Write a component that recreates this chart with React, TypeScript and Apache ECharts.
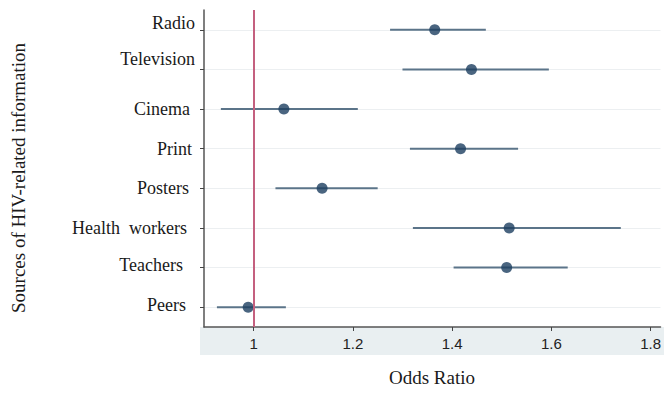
import React, { useEffect, useRef } from "react";
import * as echarts from "echarts";

const categories = ["Radio", "Television", "Cinema", "Print", "Posters", "Health workers", "Teachers", "Peers"];
const oddsRatio = [1.365, 1.439, 1.061, 1.417, 1.138, 1.515, 1.51, 0.989];
const lowerCI = [1.275, 1.3, 0.934, 1.315, 1.044, 1.321, 1.403, 0.926];
const upperCI = [1.468, 1.595, 1.21, 1.533, 1.25, 1.74, 1.633, 1.065];
const xTicks = [1, 1.2, 1.4, 1.6, 1.8];

// label nudges (style only): [bottom padding to lift, right padding]
const labelNudge: Record<string, [number, number]> = {
  Radio: [14, 0],
  Television: [20, 0],
  Cinema: [0, 5],
  Print: [0, 3],
  Posters: [0, 6],
  "Health workers": [0, 8],
  Teachers: [6, 12],
  Peers: [4, 9],
};

const SERIF = "Liberation Serif";

export default function App() {
  const ref = useRef<HTMLDivElement>(null);
  useEffect(() => {
    if (!ref.current) return;
    const chart = echarts.init(ref.current, undefined, { renderer: "svg" });
    const rich: Record<string, any> = {};
    categories.forEach((c, i) => {
      const [b, r] = labelNudge[c] || [0, 0];
      rich["c" + i] = {
        fontFamily: SERIF,
        fontSize: 18,
        color: "#1a1a1a",
        padding: [0, r, b, 0],
      };
    });
    chart.setOption({
      animation: false,
      backgroundColor: "#ffffff",
      grid: { left: 204, top: 10, right: 0, bottom: 86, containLabel: false },
      graphic: [
        {
          type: "rect",
          z: -10,
          shape: { x: 200, y: 327, width: 464, height: 28 },
          style: { fill: "#e9eff1" },
        },
        {
          type: "text",
          x: 18,
          y: 178,
          rotation: Math.PI / 2,
          style: {
            text: "Sources of HIV-related information",
            fontFamily: SERIF,
            fontSize: 19,
            fill: "#1a1a1a",
            align: "center",
            verticalAlign: "middle",
          },
        },
        {
          type: "text",
          x: 432,
          y: 377,
          style: {
            text: "Odds Ratio",
            fontFamily: SERIF,
            fontSize: 19,
            fill: "#1a1a1a",
            align: "center",
            verticalAlign: "middle",
          },
        },
      ],
      xAxis: {
        type: "value",
        min: 0.9,
        max: 1.82,
        axisLine: { show: true, onZero: false, lineStyle: { color: "#555", width: 1.5 } },
        axisTick: { show: true, length: 4, customValues: xTicks, lineStyle: { color: "#444" } },
        axisLabel: {
          customValues: xTicks,
          fontFamily: "Liberation Sans",
          fontSize: 15,
          color: "#222",
          margin: 9,
          formatter: (v: number) => String(+v.toFixed(1)),
        },
        splitLine: { show: false },
      },
      yAxis: {
        type: "category",
        data: categories,
        inverse: true,
        axisLine: { show: true, lineStyle: { color: "#555", width: 1.5 } },
        axisTick: { show: true, alignWithLabel: true, length: 4, lineStyle: { color: "#444" } },
        axisLabel: {
          margin: 9,
          formatter: (v: string) => `{c${categories.indexOf(v)}|${v === "Health workers" ? "Health  workers" : v}}`,
          rich,
        },
        splitLine: { show: true, alignWithLabel: true, lineStyle: { color: "#eceff1", width: 1 } },
      },
      series: [
        {
          type: "custom",
          renderItem: (params: any, api: any) => {
            const y = api.value(0);
            const p1 = api.coord([api.value(1), y]);
            const p2 = api.coord([api.value(2), y]);
            return {
              type: "line",
              shape: { x1: p1[0], y1: p1[1], x2: p2[0], y2: p2[1] },
              style: { stroke: "#5b7489", lineWidth: 2 },
            };
          },
          encode: { x: [1, 2], y: 0 },
          data: categories.map((c, i) => [i, lowerCI[i], upperCI[i]]),
          z: 2,
        },
        {
          type: "scatter",
          symbolSize: 11,
          itemStyle: { color: "#1d3f60" },
          data: categories.map((c, i) => [oddsRatio[i], c]),
          z: 3,
          markLine: {
            silent: true,
            symbol: "none",
            label: { show: false },
            lineStyle: { color: "#c4607f", width: 2, type: "solid" },
            data: [{ xAxis: 1 }],
          },
        },
      ],
    });
    return () => chart.dispose();
  }, []);
  return <div ref={ref} style={{ width: 664, height: 413, position: "absolute", left: 0, top: 0 }} />;
}
